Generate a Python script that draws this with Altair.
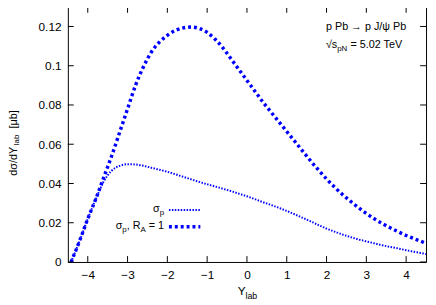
import altair as alt
import pandas as pd

# ---- data ----
ylab = [-4.42, -4.2, -4.0, -3.8, -3.6, -3.4, -3.2, -3.0, -2.8, -2.6, -2.4, -2.2,
        -2.0, -1.8, -1.6, -1.4, -1.2, -1.0, -0.8, -0.6, -0.4, -0.2, 0.0, 0.2,
        0.4, 0.6, 0.8, 1.0, 1.2, 1.4, 1.6, 1.8, 2.0, 2.2, 2.4, 2.6, 2.8, 3.0,
        3.2, 3.4, 3.6, 3.8, 4.0, 4.2, 4.4, 4.5]
sigma_p = [0.0, 0.011, 0.022, 0.032, 0.041, 0.0465, 0.049, 0.0498, 0.0497, 0.049,
           0.048, 0.047, 0.046, 0.0447, 0.0434, 0.0421, 0.0408, 0.0396, 0.0385,
           0.0373, 0.0361, 0.0348, 0.0335, 0.032, 0.0305, 0.0291, 0.0276, 0.026,
           0.0243, 0.0225, 0.0207, 0.0188, 0.017, 0.0155, 0.014, 0.0127, 0.0115,
           0.0105, 0.0095, 0.0085, 0.0077, 0.0069, 0.006, 0.0052, 0.0045, 0.004]
sigma_p_ra1 = [0.0, 0.011, 0.022, 0.032, 0.043, 0.054, 0.066, 0.078, 0.090, 0.0995,
               0.107, 0.112, 0.1155, 0.118, 0.1193, 0.1197, 0.119, 0.117, 0.1135,
               0.109, 0.1035, 0.098, 0.0925, 0.087, 0.0815, 0.0765, 0.0715, 0.0665,
               0.0615, 0.0565, 0.0515, 0.0468, 0.0423, 0.0382, 0.0344, 0.031, 0.0277,
               0.0247, 0.022, 0.0196, 0.0174, 0.0154, 0.0135, 0.0119, 0.0103, 0.0095]
x_ticks = [-4, -3, -2, -1, 0, 1, 2, 3, 4]
y_ticks = [0, 0.02, 0.04, 0.06, 0.08, 0.1, 0.12]

W, H = 365, 260
BLUE = "#0000ff"
FONT = "Liberation Sans"

xs = alt.Scale(domain=[-4.5, 4.5], nice=False, zero=False)
ys = alt.Scale(domain=[0, 0.13], nice=False, zero=False)
ax_x = alt.Axis(values=x_ticks, title=None, ticks=False, domain=False, grid=False,
                labelFont=FONT, labelFontSize=12, labelColor="black",
                labelPadding=8, format="d")
ax_y = alt.Axis(values=y_ticks, title=None, ticks=False, domain=False, grid=False,
                labelFont=FONT, labelFontSize=12, labelColor="black",
                labelPadding=7, format=".2~f")

df_thin = pd.DataFrame({"Y": ylab, "v": sigma_p})
df_thick = pd.DataFrame({"Y": ylab, "v": sigma_p_ra1})

thin = alt.Chart(df_thin).mark_line(
    color=BLUE, strokeWidth=2, strokeDash=[1.5, 1.5], interpolate="monotone"
).encode(
    x=alt.X("Y:Q", scale=xs, axis=ax_x),
    y=alt.Y("v:Q", scale=ys, axis=ax_y),
)

thick = alt.Chart(df_thick).mark_line(
    color=BLUE, strokeWidth=3.5, strokeDash=[3, 3], interpolate="monotone"
).encode(
    x=alt.X("Y:Q", scale=xs, axis=ax_x),
    y=alt.Y("v:Q", scale=ys, axis=ax_y),
)

xt = pd.DataFrame({"Y": x_ticks})
yt = pd.DataFrame({"v": y_ticks})
TL = 6
ticks = [
    alt.Chart(xt).mark_rule(color="black", strokeWidth=1).encode(
        x=alt.X("Y:Q", scale=xs, axis=ax_x), y=alt.value(H), y2=alt.value(H - TL)),
    alt.Chart(xt).mark_rule(color="black", strokeWidth=1).encode(
        x=alt.X("Y:Q", scale=xs, axis=ax_x), y=alt.value(0), y2=alt.value(TL)),
    alt.Chart(yt).mark_rule(color="black", strokeWidth=1).encode(
        y=alt.Y("v:Q", scale=ys, axis=ax_y), x=alt.value(0), x2=alt.value(TL)),
    alt.Chart(yt).mark_rule(color="black", strokeWidth=1).encode(
        y=alt.Y("v:Q", scale=ys, axis=ax_y), x=alt.value(W), x2=alt.value(W - TL)),
]


def txt(s, x, y, size=11, align="left", angle=0):
    return alt.Chart(pd.DataFrame({"t": [s]})).mark_text(
        align=align, baseline="alphabetic", font=FONT, fontSize=size,
        angle=angle, color="black"
    ).encode(x=alt.value(x), y=alt.value(y), text="t:N")


texts = [
    # y-axis title (rotated)
    txt("dσ/dY", -52, 172, 11, "left", 270),
    txt("lab", -49.5, 141, 8, "left", 270),
    txt("[μb]", -52, 124, 11, "left", 270),
    # x-axis title
    txt("Y", 173, 294, 12),
    txt("lab", 181, 298, 9),
    # annotations
    txt("p Pb → p J/ψ Pb", 263, 23.5, 11),
    txt("√s", 263, 42, 11),
    txt("pN", 274.5, 45, 8),
    txt("= 5.02 TeV", 288, 42, 11),
    # legend labels
    txt("σ", 93.6, 209.5, 11, "right"),
    txt("p", 98, 212.5, 8, "right"),
    txt("= 1", 98, 226.5, 11, "right"),
    txt("A", 79.3, 229.5, 8, "right"),
    txt(", R", 74.0, 226.5, 11, "right"),
    txt("p", 59.9, 229.5, 8, "right"),
    txt("σ", 55.5, 226.5, 11, "right"),
]

one = pd.DataFrame({"a": [0]})
legend_lines = [
    alt.Chart(one).mark_rule(color=BLUE, strokeWidth=2, strokeDash=[1.5, 1.5]).encode(
        x=alt.value(103), x2=alt.value(135), y=alt.value(207)),
    alt.Chart(one).mark_rule(color=BLUE, strokeWidth=3.5, strokeDash=[3, 3]).encode(
        x=alt.value(103), x2=alt.value(135), y=alt.value(224)),
]

chart = alt.layer(thin, thick, *ticks, *legend_lines, *texts).properties(
    width=W, height=H,
    autosize=alt.AutoSizeParams(type="none"),
    padding={"left": 61, "top": -4, "right": 2, "bottom": 41},
).configure_view(stroke="black", strokeWidth=1)

chart.save("out.html", embed_options={"renderer": "svg", "actions": False})
